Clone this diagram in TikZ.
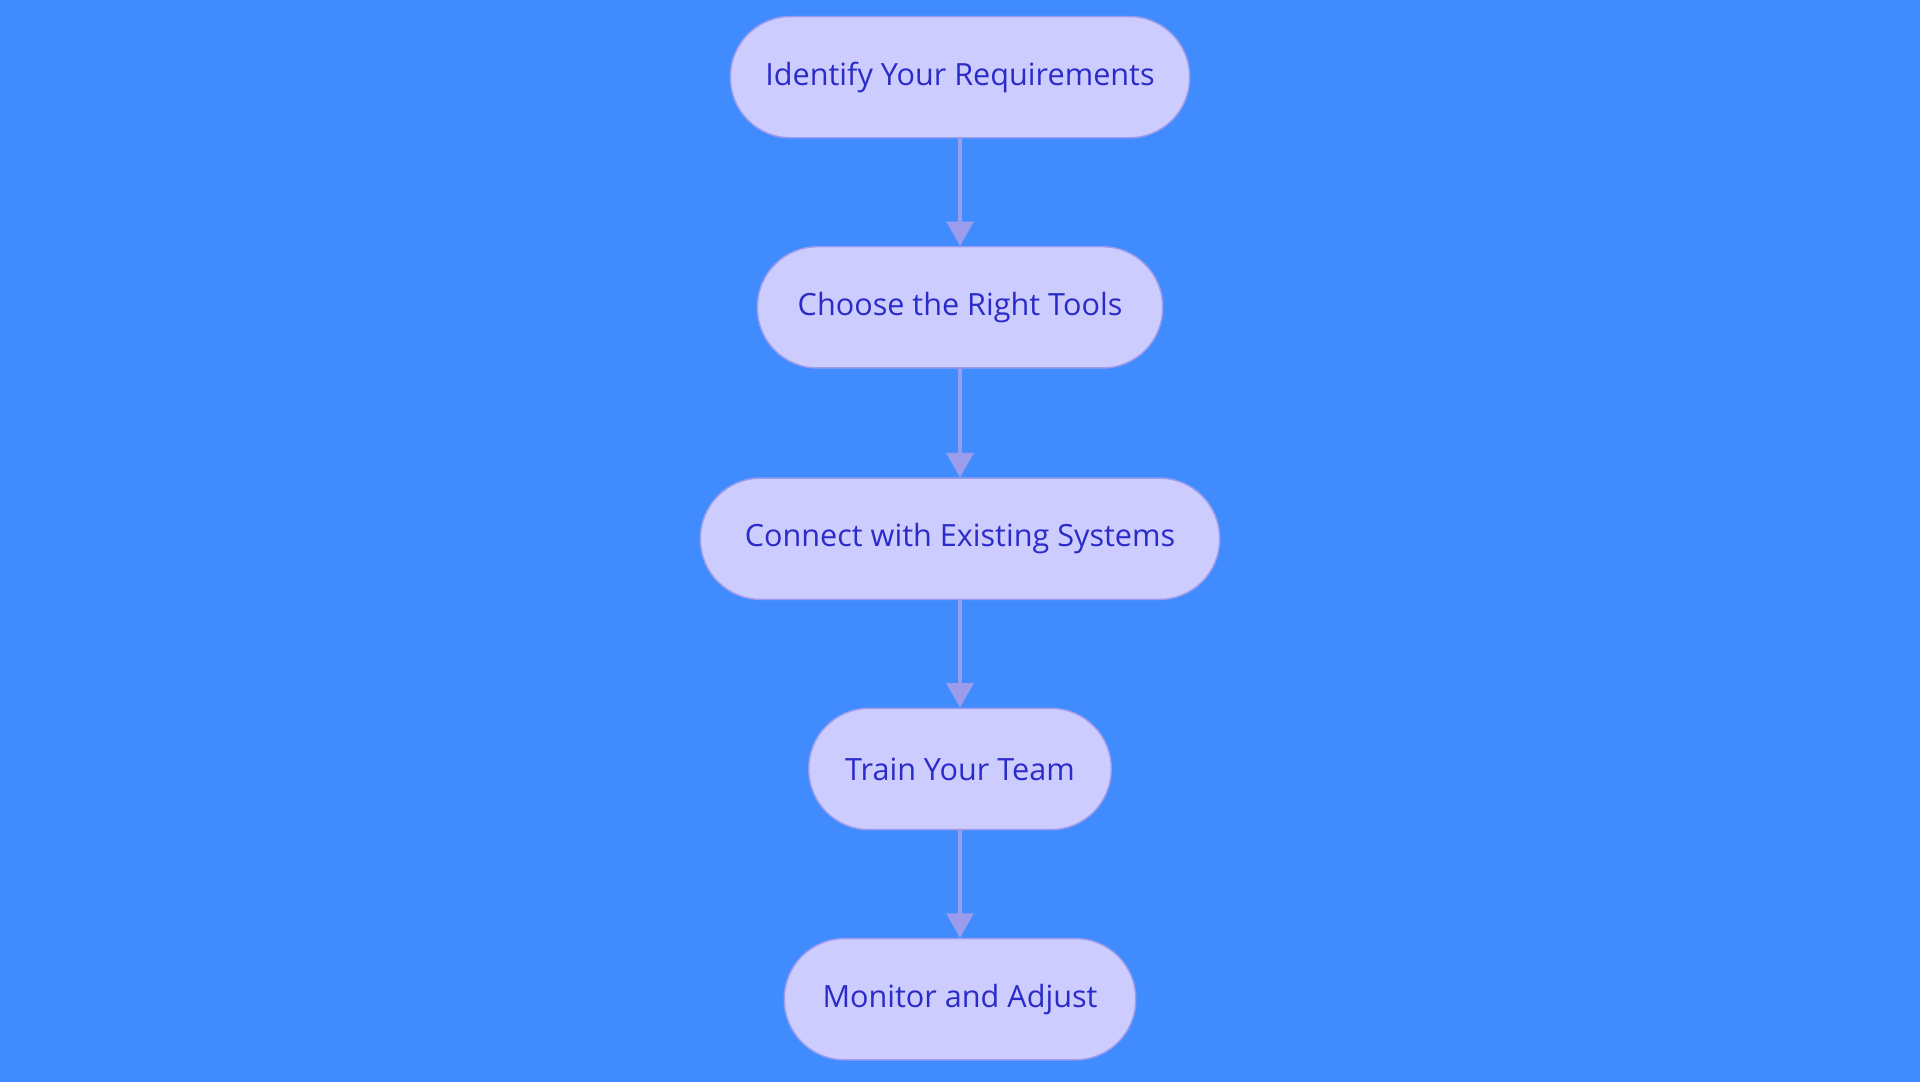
\documentclass[tikz,border=0pt]{standalone}
\usepackage{fontspec}
\setmainfont{Open Sans}
\usetikzlibrary{positioning,arrows.meta}
\definecolor{bgblue}{HTML}{408CFF}
\definecolor{stepfill}{HTML}{CCCCFF}
\definecolor{stepline}{HTML}{9C9CEC}
\definecolor{steptext}{HTML}{2B2BC8}
\tikzset{
    stepbox/.style={draw=stepline, fill=stepfill, text=steptext, line width=1.2pt,
        rounded corners=49pt, minimum height=99pt, inner sep=0pt, font=\fontsize{25}{30}\selectfont},
    flow/.style={draw=stepline, line width=2.5pt, -{Triangle[length=20pt,width=22pt]}}
}
\begin{document}
\begin{tikzpicture}[x=1pt,y=-1pt]
    \fill[bgblue] (0,0) rectangle (1568,884);
    \node[stepbox, minimum width=375pt] at (784, 63)  (req)     {Identify Your Requirements};
    \node[stepbox, minimum width=331pt] at (784, 251) (tools)   {Choose the Right Tools};
    \node[stepbox, minimum width=424pt] at (784, 440) (connect) {Connect with Existing Systems};
    \node[stepbox, minimum width=247pt] at (784, 628) (train)   {Train Your Team};
    \node[stepbox, minimum width=287pt] at (784, 816) (monitor) {Monitor and Adjust};

    \draw[flow] (req) -- (tools);
    \draw[flow] (tools) -- (connect);
    \draw[flow] (connect) -- (train);
    \draw[flow] (train) -- (monitor);
\end{tikzpicture}
\end{document}
